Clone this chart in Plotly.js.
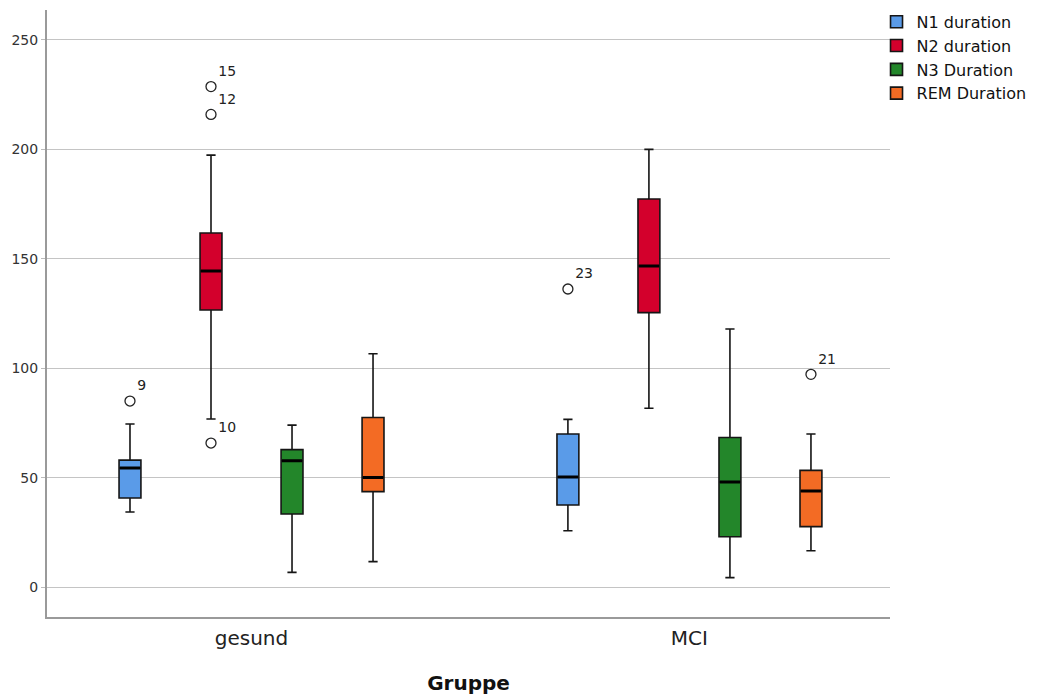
<!DOCTYPE html>
<html><head><meta charset="utf-8">
<script src="https://cdn.plot.ly/plotly-3.0.1.min.js"></script>
<style>html,body{margin:0;padding:0;background:#fff}#chart{width:1041px;height:695px}</style>
</head><body><div id="chart"></div>
<script>
// ---- data ----
const groups = ['gesund', 'MCI'];
const seriesNames = ['N1 duration', 'N2 duration', 'N3 Duration', 'REM Duration'];
const seriesColors = ['#5a9be8', '#d3002c', '#23862a', '#f36b24'];

// values per series, ordered as groups: [gesund, MCI]
const n1Lower = [34.3, 25.7], n1Q1 = [40.7, 37.5], n1Median = [54.4, 50.3], n1Q3 = [58.0, 69.9], n1Upper = [74.5, 76.6];
const n2Lower = [76.8, 81.7], n2Q1 = [126.6, 125.4], n2Median = [144.4, 146.7], n2Q3 = [161.8, 177.3], n2Upper = [197.4, 200.0];
const n3Lower = [6.7, 4.3], n3Q1 = [33.4, 23.0], n3Median = [57.7, 48.0], n3Q3 = [62.8, 68.3], n3Upper = [74.0, 117.9];
const remLower = [11.6, 16.6], remQ1 = [43.6, 27.6], remMedian = [50.1, 43.9], remQ3 = [77.5, 53.3], remUpper = [106.6, 69.9];

// outliers
const outlierGroup = ['gesund', 'gesund', 'gesund', 'gesund', 'MCI', 'MCI'];
const outlierSeries = ['N1 duration', 'N2 duration', 'N2 duration', 'N2 duration', 'N1 duration', 'REM Duration'];
const outlierValue = [85.0, 228.7, 216.0, 65.8, 136.2, 97.2];
const outlierCase = ['9', '15', '12', '10', '23', '21'];

const yTickVals = [0, 50, 100, 150, 200, 250];

// ---- layout helpers ----
const SERIES_STEP = 0.185;
const BOX_WIDTH = 0.05;
function pos(g, s) { return groups.indexOf(g) + (seriesNames.indexOf(s) - 1.5) * SERIES_STEP; }

const stats = [
  [n1Lower, n1Q1, n1Median, n1Q3, n1Upper],
  [n2Lower, n2Q1, n2Median, n2Q3, n2Upper],
  [n3Lower, n3Q1, n3Median, n3Q3, n3Upper],
  [remLower, remQ1, remMedian, remQ3, remUpper]
];

const FONT = 'DejaVu Sans, Verdana, sans-serif';
const traces = [];
seriesNames.forEach((name, si) => {
  const [lo, q1, med, q3, up] = stats[si];
  const xs = groups.map(g => pos(g, name));
  traces.push({
    type: 'box', name: name, x: xs,
    lowerfence: lo, q1: q1, median: med, q3: q3, upperfence: up,
    width: BOX_WIDTH, whiskerwidth: 0.42,
    fillcolor: seriesColors[si],
    line: { color: '#151515', width: 1.6 },
    boxpoints: false, hoverinfo: 'skip', showlegend: true
  });
});
// thicker median bars (degenerate boxes at the median)
seriesNames.forEach((name, si) => {
  const med = stats[si][2];
  const xs = groups.map(g => pos(g, name));
  traces.push({
    type: 'box', name: name + ' median', x: xs,
    lowerfence: med, q1: med, median: med, q3: med, upperfence: med,
    width: BOX_WIDTH * 0.92, whiskerwidth: 0,
    fillcolor: 'rgba(0,0,0,0)',
    line: { color: '#000', width: 3 },
    boxpoints: false, hoverinfo: 'skip', showlegend: false
  });
});
traces.push({
  type: 'scatter', mode: 'markers+text',
  x: outlierGroup.map((g, i) => pos(g, outlierSeries[i])),
  y: outlierValue, text: outlierCase,
  textposition: 'top right',
  textfont: { family: FONT, size: 14, color: '#222' },
  marker: { symbol: 'circle-open', size: 10, color: '#222', line: { width: 1.3, color: '#222' } },
  showlegend: false, hoverinfo: 'skip', cliponaxis: false
});

const layout = {
  width: 1041, height: 695,
  margin: { l: 47, r: 151, t: 10, b: 78, autoexpand: false },
  paper_bgcolor: '#fff', plot_bgcolor: '#fff',
  boxmode: 'overlay',
  showlegend: true,
  legend: {
    xref: 'container', yref: 'container',
    x: 0.842, xanchor: 'left', y: 0.993, yanchor: 'top',
    font: { family: FONT, size: 16, color: '#111' },
    itemwidth: 30, tracegroupgap: 0, bgcolor: 'rgba(0,0,0,0)'
  },
  xaxis: {
    type: 'linear', range: [-0.467, 1.458],
    tickvals: groups.map((g, i) => i), ticktext: groups,
    ticks: 'outside', ticklen: 2, tickcolor: 'rgba(0,0,0,0)',
    tickfont: { family: FONT, size: 20, color: '#222' },
    showgrid: false, zeroline: false,
    showline: true, linecolor: '#9a9a9a', linewidth: 2,
    title: { text: '<b>Gruppe</b>', font: { family: FONT, size: 20, color: '#111' }, standoff: 28 }
  },
  yaxis: {
    range: [-13.7, 263.7], tickvals: yTickVals,
    ticks: 'outside', ticklen: 4, tickcolor: '#bbb',
    tickfont: { family: FONT, size: 14, color: '#333' },
    showgrid: true, gridcolor: '#c4c4c4', gridwidth: 1,
    zeroline: false,
    showline: true, linecolor: '#9a9a9a', linewidth: 2
  }
};
Plotly.newPlot('chart', traces, layout, { displayModeBar: false, staticPlot: true });
</script></body></html>
